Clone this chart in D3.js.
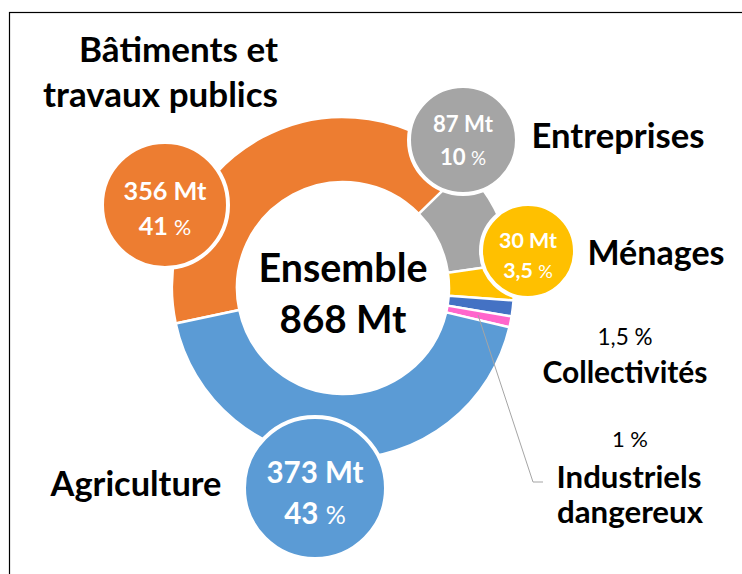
<!DOCTYPE html>
<html><head><meta charset="utf-8">
<script src="https://cdn.jsdelivr.net/npm/d3@7/dist/d3.min.js"></script>
<style>html,body{margin:0;padding:0;background:#fff;}svg{display:block;font-family:Lato,"Open Sans",sans-serif;}</style>
</head><body>
<svg id="c" width="742" height="574"></svg>
<script>
// ---- data ----
const categories = ["Bâtiments et travaux publics", "Entreprises", "Ménages", "Collectivités", "Industriels dangereux", "Agriculture"];
const valuesMt = [356, 87, 30, 13, 9, 373];
const percentLabels = ["41", "10", "3,5", "1,5", "1", "43"];
const totalLabel = "868 Mt";
const colors = ["#ED7D31", "#A5A5A5", "#FFC000", "#4472C4", "#FF66CC", "#5B9BD5"];

// ---- layout ----
const W = 742, H = 574;
const cx = 343, cy = 288, rIn = 106, rOut = 171;
const startDeg = -102;
const bubbles = [ // index -> bubble layout
  {i:0, x:165, y:205, r:63, y1:200, y2:235, w:83, fs:24},
  {i:1, x:463, y:140, r:54, y1:132, y2:165, w:60, fs:20},
  {i:2, x:528, y:251, r:47, y1:248, y2:278, w:58, fs:19},
  {i:5, x:315, y:488, r:71, y1:483, y2:524, w:97, fs:26}
];

const svg = d3.select("#c");
svg.append("rect").attr("x", 9.5).attr("y", 12.5).attr("width", 760).attr("height", 600)
  .attr("fill", "none").attr("stroke", "#000").attr("stroke-width", 1.2);

const data = categories.map((c, i) => ({cat: c, v: valuesMt[i], p: percentLabels[i], color: colors[i]}));
const pie = d3.pie().sort(null).value(d => d.v)
  .startAngle(startDeg * Math.PI / 180).endAngle(startDeg * Math.PI / 180 + 2 * Math.PI);
const arcs = pie(data);
const arc = d3.arc().innerRadius(rIn).outerRadius(rOut);

const g = svg.append("g").attr("transform", `translate(${cx},${cy})`);
g.selectAll("path").data(arcs).join("path")
  .attr("d", arc).attr("fill", d => d.data.color)
  .attr("stroke", "#fff").attr("stroke-width", 2.5).attr("stroke-linejoin", "miter");

// leader line for Industriels dangereux
svg.append("path").attr("d", d3.line()([[478, 315], [533, 482], [543, 482]]))
  .attr("fill", "none").attr("stroke", "#A5A5A5").attr("stroke-width", 1);

// bubbles
const bg = svg.selectAll("g.b").data(bubbles).join("g").attr("class", "b");
bg.append("circle").attr("cx", d => d.x).attr("cy", d => d.y).attr("r", d => d.r)
  .attr("fill", d => colors[d.i]).attr("stroke", "#fff").attr("stroke-width", 4);

function fit(sel, w) {
  sel.each(function() {
    const n = this; const fs = parseFloat(n.getAttribute("font-size"));
    const L = n.getComputedTextLength();
    if (L > 0) n.setAttribute("font-size", (fs * w / L).toFixed(2));
  });
}

bg.each(function(d) {
  const b = d3.select(this);
  const t1 = b.append("text").attr("x", d.x).attr("y", d.y1).attr("text-anchor", "middle")
    .attr("fill", "#fff").attr("font-weight", 700).attr("font-size", d.fs)
    .text(valuesMt[d.i] + " Mt");
  fit(t1, d.w);
  const fs = t1.attr("font-size");
  const t2 = b.append("text").attr("x", d.x).attr("y", d.y2).attr("text-anchor", "middle")
    .attr("fill", "#fff").attr("font-weight", 700).attr("font-size", fs);
  t2.append("tspan").text(percentLabels[d.i] + " ");
  t2.append("tspan").attr("font-size", "0.85em").attr("font-weight", 400).text("%");
});

// center text
const center = [["Ensemble", 282, 169], [totalLabel, 333, 127]];
center.forEach(([t, y, w]) => {
  svg.append("text").attr("x", cx).attr("y", y).attr("text-anchor", "middle")
    .attr("font-weight", 700).attr("font-size", 36).attr("fill", "#000").text(t)
    .call(s => fit(s, w));
});

// category labels
const labels = [
  {t: "Bâtiments et", x: 278, y: 62, a: "end", w: 199, b: 700},
  {t: "travaux publics", x: 278, y: 107, a: "end", w: 235, b: 700},
  {t: categories[1], x: 618, y: 148, a: "middle", w: 173, b: 700},
  {t: categories[2], x: 656, y: 265, a: "middle", w: 137, b: 700},
  {t: percentLabels[3] + " %", x: 625, y: 345, a: "middle", w: 55, b: 400},
  {t: categories[3], x: 625, y: 383, a: "middle", w: 165, b: 700},
  {t: percentLabels[4] + " %", x: 630, y: 447, a: "middle", w: 36, b: 400},
  {t: "Industriels", x: 629, y: 488, a: "middle", w: 145, b: 700},
  {t: "dangereux", x: 630, y: 523, a: "middle", w: 146, b: 700},
  {t: categories[5], x: 136, y: 496, a: "middle", w: 171, b: 700}
];
labels.forEach(l => {
  svg.append("text").attr("x", l.x).attr("y", l.y).attr("text-anchor", l.a)
    .attr("font-weight", l.b).attr("font-size", 30).attr("fill", "#000").text(l.t)
    .call(s => fit(s, l.w));
});
</script>
</body></html>
